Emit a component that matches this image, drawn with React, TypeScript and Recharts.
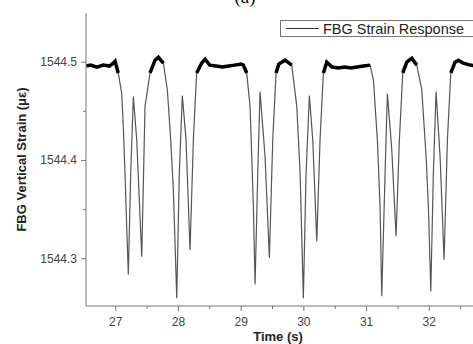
import { LineChart, Line, XAxis, YAxis } from "recharts"

// time (s) and strain samples
const time = [
  26.53, 26.6, 26.7, 26.8, 26.9, 26.96, 26.99, 27.04, 27.096, 27.121, 27.148, 27.175, 27.201, 27.239, 27.281,
  27.335, 27.376, 27.415, 27.467, 27.547, 27.627, 27.68, 27.76, 27.823, 27.877, 27.919, 27.973, 28.014, 28.062,
  28.121, 28.185, 28.238, 28.29, 28.37, 28.424, 28.5, 28.6, 28.7, 28.8, 28.9, 29.0, 29.035, 29.089, 29.142,
  29.169, 29.195, 29.222, 29.265, 29.301, 29.381, 29.45, 29.504, 29.557, 29.6, 29.7, 29.807, 29.887, 29.94,
  29.992, 30.035, 30.088, 30.142, 30.206, 30.258, 30.311, 30.365, 30.45, 30.55, 30.65, 30.75, 30.85, 30.95,
  31.056, 31.109, 31.172, 31.215, 31.242, 31.295, 31.332, 31.402, 31.47, 31.523, 31.577, 31.641, 31.721, 31.8,
  31.88, 31.949, 31.986, 32.024, 32.065, 32.108, 32.172, 32.236, 32.289, 32.343, 32.411, 32.464, 32.544, 32.65,
  32.8, 33.0,
]
const strain = [
  1544.496, 1544.497, 1544.495, 1544.497, 1544.496, 1544.499, 1544.501, 1544.489, 1544.468, 1544.434, 1544.387,
  1544.333, 1544.284, 1544.387, 1544.465, 1544.421, 1544.36, 1544.302, 1544.455, 1544.489, 1544.502, 1544.505,
  1544.499, 1544.472, 1544.421, 1544.37, 1544.26, 1544.387, 1544.466, 1544.421, 1544.309, 1544.421, 1544.489,
  1544.499, 1544.503, 1544.497, 1544.496, 1544.495, 1544.496, 1544.497, 1544.498, 1544.497, 1544.489, 1544.455,
  1544.404, 1544.353, 1544.274, 1544.387, 1544.47, 1544.404, 1544.301, 1544.421, 1544.489, 1544.498, 1544.502,
  1544.497, 1544.455, 1544.387, 1544.26, 1544.387, 1544.466, 1544.421, 1544.318, 1544.421, 1544.489, 1544.5,
  1544.495, 1544.494, 1544.495, 1544.494, 1544.495, 1544.496, 1544.497, 1544.482, 1544.421, 1544.353, 1544.262,
  1544.387, 1544.468, 1544.411, 1544.323, 1544.421, 1544.489, 1544.5, 1544.504, 1544.497, 1544.472, 1544.404,
  1544.353, 1544.267, 1544.387, 1544.47, 1544.404, 1544.299, 1544.421, 1544.489, 1544.5, 1544.502, 1544.499,
  1544.497, 1544.496, 1544.497,
]

const xTicks = [27, 27.5, 28, 28.5, 29, 29.5, 30, 30.5, 31, 31.5, 32, 32.5]
const yTicks = [1544.3, 1544.35, 1544.4, 1544.45, 1544.5]
const xMajor = [27, 28, 29, 30, 31, 32]
const yMajor = [1544.3, 1544.4, 1544.5]

const PLATEAU = 1544.485
const axisColor = "#777"
const font = "Arial, 'Liberation Sans', sans-serif"

const data = time.map((t, i) => ({
  t,
  v: strain[i],
  top: strain[i] >= PLATEAU ? strain[i] : null,
}))

function XTick(props: any) {
  const { x, y, payload } = props
  const major = xMajor.includes(payload.value)
  return (
    <g>
      <line x1={x} x2={x} y1={y} y2={y + (major ? 5 : 3)} stroke={axisColor} />
      {major && (
        <text x={x} y={y + 20} textAnchor="middle" fontSize={12} fill="#444" fontFamily={font}>
          {payload.value}
        </text>
      )}
    </g>
  )
}

function YTick(props: any) {
  const { x, y, payload } = props
  const major = yMajor.some((m) => Math.abs(m - payload.value) < 1e-6)
  return (
    <g>
      <line x1={x - (major ? 5 : 3)} x2={x} y1={y} y2={y} stroke={axisColor} />
      {major && (
        <text x={x - 9} y={y + 4} textAnchor="end" fontSize={12} fill="#444" fontFamily={font}>
          {payload.value.toFixed(1)}
        </text>
      )}
    </g>
  )
}

export default function App() {
  return (
    <div
      style={{
        position: "fixed",
        left: 0,
        top: 0,
        width: 473,
        height: 344,
        overflow: "hidden",
        background: "#fff",
      }}
    >
      <div
        style={{
          position: "absolute",
          left: 225,
          top: -14,
          width: 40,
          textAlign: "center",
          fontFamily: "'Liberation Serif', serif",
          fontSize: 19,
          color: "#111",
        }}
      >
        (a)
      </div>
      <LineChart width={492} height={344} data={data} margin={{ top: 13, right: 0, bottom: 0, left: 0 }}>
        <XAxis
          dataKey="t"
          type="number"
          domain={[26.526, 33]}
          ticks={xTicks}
          tick={XTick}
          tickLine={false}
          tickSize={0}
          tickMargin={0}
          height={38}
          stroke={axisColor}
          allowDataOverflow
          label={{
            value: "Time (s)",
            position: "insideBottom",
            offset: 0,
            dx: -11,
            dy: -3,
            fontSize: 13,
            fontWeight: "bold",
            fill: "#222",
            fontFamily: font,
          }}
        />
        <XAxis xAxisId="top" orientation="top" type="number" domain={[26.526, 33]} tick={false} tickLine={false} height={0} stroke={axisColor} />
        <YAxis
          type="number"
          domain={[1544.252, 1544.55]}
          ticks={yTicks}
          tick={YTick}
          tickLine={false}
          tickSize={0}
          tickMargin={0}
          width={86}
          stroke={axisColor}
          allowDataOverflow
          label={{
            value: "FBG Vertical Strain (\u03bc\u03b5)",
            angle: -90,
            position: "insideLeft",
            offset: 0,
            dx: 21,
            dy: 0,
            fontSize: 13,
            fontWeight: "bold",
            fill: "#222",
            fontFamily: font,
            style: { textAnchor: "middle" },
          }}
        />
        <Line
          type="linear"
          dataKey="v"
          stroke="#555"
          strokeWidth={1.2}
          dot={false}
          isAnimationActive={false}
        />
        <Line
          type="linear"
          dataKey="top"
          stroke="#000"
          strokeWidth={3.5}
          dot={false}
          connectNulls={false}
          isAnimationActive={false}
        />
      </LineChart>
      <div
        style={{
          position: "absolute",
          left: 280,
          top: 20,
          width: 220,
          height: 15,
          border: `1px solid ${axisColor}`,
          background: "#fff",
          display: "flex",
          alignItems: "center",
          fontFamily: font,
          fontSize: 14.5,
          color: "#222",
          whiteSpace: "nowrap",
        }}
      >
        <span style={{ display: "inline-block", width: 33, borderTop: "1px solid #333", marginLeft: 5, marginRight: 4 }} />
        FBG Strain Response
      </div>
    </div>
  )
}
